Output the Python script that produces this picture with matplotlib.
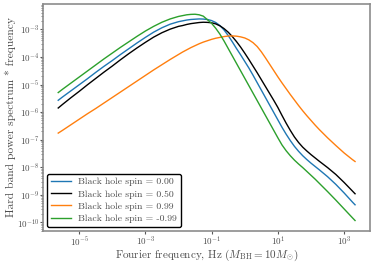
import numpy as np
import matplotlib
matplotlib.use("Agg")
import matplotlib.pyplot as plt
from matplotlib.ticker import LogLocator, NullFormatter

plt.rcParams['font.family'] = 'serif'
plt.rcParams['font.serif'] = ['cmr10', 'DejaVu Serif']
plt.rcParams['mathtext.fontset'] = 'cm'
plt.rcParams['axes.formatter.use_mathtext'] = True
plt.rcParams['axes.unicode_minus'] = False

# log10 of Fourier frequency (Hz)
log_freq = [-5.63, -5.5, -5.25, -5.0, -4.75, -4.5, -4.25, -4.0, -3.75, -3.5, -3.25, -3.0,
            -2.75, -2.5, -2.25,
            -2.0, -1.875, -1.75, -1.625, -1.5, -1.375, -1.25, -1.125, -1.0, -0.875, -0.75,
            -0.625, -0.5, -0.375, -0.25, -0.125, 0.0, 0.125, 0.25, 0.375, 0.5, 0.625, 0.75,
            0.875, 1.0, 1.125, 1.25, 1.375, 1.5, 1.625, 1.75, 1.875, 2.0, 2.125, 2.25,
            2.5, 2.75, 3.0, 3.25, 3.33]

# log10 of (hard band power * frequency) for each spin
log_p_000 = [-5.57, -5.45, -5.23, -5.01, -4.79, -4.56, -4.34, -4.13, -3.91, -3.70, -3.49, -3.29,
             -3.10, -2.94, -2.81,
             -2.72, -2.69, -2.66, -2.64, -2.63, -2.62, -2.625, -2.64, -2.68, -2.75, -2.86,
             -3.02, -3.22, -3.45, -3.69, -3.92, -4.16, -4.40, -4.66, -4.93, -5.20, -5.47, -5.74,
             -6.01, -6.28, -6.55, -6.80, -7.03, -7.24, -7.42, -7.58, -7.72, -7.85, -7.97, -8.09,
             -8.34, -8.62, -8.93, -9.26, -9.36]
log_p_050 = [-5.85, -5.72, -5.48, -5.25, -5.01, -4.78, -4.55, -4.33, -4.10, -3.88, -3.67, -3.47,
             -3.28, -3.12, -2.99,
             -2.89, -2.86, -2.82, -2.79, -2.77, -2.75, -2.74, -2.745, -2.76, -2.80, -2.87,
             -2.97, -3.10, -3.26, -3.44, -3.64, -3.86, -4.09, -4.33, -4.57, -4.82, -5.07, -5.32,
             -5.57, -5.83, -6.12, -6.40, -6.66, -6.90, -7.10, -7.27, -7.41, -7.54, -7.66, -7.78,
             -8.01, -8.26, -8.55, -8.86, -8.96]
log_p_099 = [-6.76, -6.66, -6.46, -6.26, -6.06, -5.87, -5.67, -5.47, -5.27, -5.07, -4.87, -4.67,
             -4.47, -4.28, -4.09,
             -3.91, -3.82, -3.74, -3.66, -3.59, -3.52, -3.46, -3.41, -3.36, -3.32, -3.29,
             -3.26, -3.24, -3.235, -3.245, -3.27, -3.31, -3.38, -3.48, -3.62, -3.81, -4.03, -4.26,
             -4.49, -4.72, -4.94, -5.15, -5.36, -5.56, -5.76, -5.95, -6.13, -6.30, -6.47, -6.63,
             -6.93, -7.21, -7.48, -7.72, -7.79]
log_p_m099 = [-5.29, -5.17, -4.95, -4.73, -4.51, -4.29, -4.07, -3.86, -3.65, -3.45, -3.25, -3.06,
              -2.89, -2.74, -2.62,
              -2.53, -2.50, -2.47, -2.455, -2.45, -2.47, -2.52, -2.65, -2.78, -2.96, -3.17,
              -3.42, -3.69, -3.96, -4.23, -4.50, -4.77, -5.04, -5.31, -5.58, -5.85, -6.12, -6.39,
              -6.66, -6.93, -7.19, -7.40, -7.58, -7.74, -7.88, -8.01, -8.15, -8.29, -8.43, -8.58,
              -8.88, -9.19, -9.51, -9.83, -9.93]

labels = ['Black hole spin = 0.00', 'Black hole spin = 0.50',
          'Black hole spin = 0.99', 'Black hole spin = -0.99']
colors = ['#1f77b4', 'black', '#ff7f0e', '#2ca02c']
series = [log_p_000, log_p_050, log_p_099, log_p_m099]

freq = 10.0 ** np.array(log_freq)

fig = plt.figure(figsize=(3.74, 2.62), dpi=100)
ax = fig.add_axes([0.116, 0.119, 0.873, 0.866])
for vals, lab, col in zip(series, labels, colors):
    ax.plot(freq, 10.0 ** np.array(vals), color=col, lw=1.0, label=lab)

ax.set_xscale('log')
ax.set_yscale('log')
ax.yaxis.set_major_locator(LogLocator(base=10, numticks=20))
ax.yaxis.set_minor_locator(LogLocator(base=10, subs=np.arange(2, 10), numticks=20))
ax.yaxis.set_minor_formatter(NullFormatter())
ax.xaxis.set_major_locator(LogLocator(base=10, subs=(1.0,), numticks=6))
ax.xaxis.set_minor_formatter(NullFormatter())

for s in ax.spines.values():
    s.set_color('0.55')
    s.set_linewidth(1.2)
ax.tick_params(which='both', colors='0.35', labelcolor='0.3', labelsize=6.5, pad=1)
ax.tick_params(which='major', length=2, width=0.8)
ax.tick_params(which='minor', length=1.2, width=0.5)

ax.set_xlabel(r'Fourier frequency, Hz ($M_{\rm BH} = 10 M_{\odot}$)', fontsize=8, color='0.3')
ax.set_ylabel('Hard band power spectrum * frequency', fontsize=8.3, color='0.3')
ax.xaxis.set_label_coords(0.5, -0.074)
ax.yaxis.set_label_coords(-0.085, 0.5)

leg = ax.legend(loc='lower left', fontsize=7, frameon=True, fancybox=True,
                borderaxespad=0.4, handlelength=2.0, labelspacing=0.35)
leg.get_frame().set_edgecolor('black')
leg.get_frame().set_linewidth(1.0)
leg.get_frame().set_alpha(1.0)
for t in leg.get_texts():
    t.set_color('0.3')

fig.savefig('out.png', dpi=100)
